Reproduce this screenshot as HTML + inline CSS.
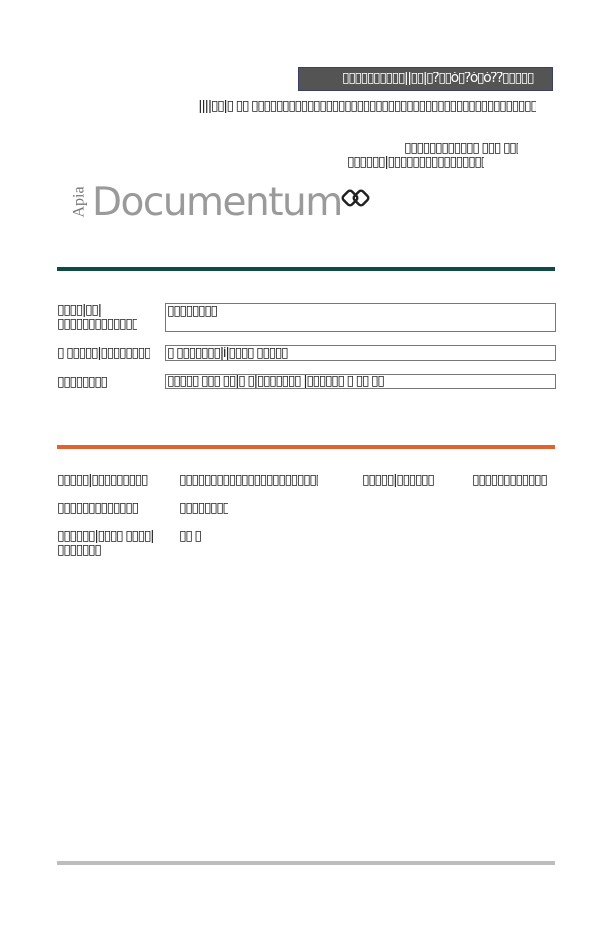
<!DOCTYPE html>
<html><head><meta charset="utf-8"><style>
body{margin:0;width:612px;height:936px;background:#fff;position:relative;overflow:hidden;font-family:"DejaVu Sans","Liberation Sans",sans-serif}
.t{position:absolute;white-space:nowrap;overflow:hidden;font-size:14px;line-height:13px;color:#222;letter-spacing:-1.5px}
.b{position:absolute;border:1px solid #777;box-sizing:border-box}
.l{position:absolute;left:57px;width:498px;height:4px}
</style></head><body>
<div style="position:absolute;left:298px;top:67px;width:255px;height:24px;background:#545454;border:1px solid #3a3f6a;box-sizing:border-box"></div>
<div class="t" style="left:342px;top:72px;width:206px;color:#fff">▯▯▯▯▯▯▯▯▯▯||▯▯|▯?▯▯ó▯?ó▯ó??▯▯▯▯▯</div>
<div class="t" style="left:198px;top:100px;width:338px">||||▯▯|▯ ▯▯ ▯▯▯▯▯▯▯▯▯▯▯▯▯▯▯▯▯▯▯▯▯▯▯▯▯▯▯▯▯▯▯▯▯▯▯▯▯▯▯▯▯▯▯▯▯▯▯▯▯▯▯▯▯▯▯▯▯▯</div>
<div class="t" style="left:404px;top:142px;width:114px">▯▯▯▯▯▯▯▯▯▯▯▯ ▯▯▯ ▯▯▯▯</div>
<div class="t" style="left:347px;top:156px;width:137px">▯▯▯▯▯▯|▯▯▯▯▯▯▯▯▯▯▯▯▯▯▯▯▯</div>
<div style="position:absolute;left:64px;top:194px;transform:rotate(-90deg);font-family:'Liberation Serif',serif;font-size:16px;color:#777;line-height:16px">Apia</div>
<div style="position:absolute;left:92px;top:179px;font-family:'DejaVu Sans',sans-serif;font-size:39px;color:#9a9a9a;letter-spacing:-1.5px;line-height:48px">Documentum</div>
<svg style="position:absolute;left:340px;top:187px" width="32" height="24"><g fill="none" stroke="#222" stroke-width="2.5"><rect x="4" y="5" width="12" height="12" transform="rotate(45 10 11)" rx="3"/><rect x="15" y="5" width="12" height="12" transform="rotate(45 21 11)" rx="3"/></g></svg>
<div class="l" style="top:267px;background:#0e4b45"></div>
<div class="t" style="left:57px;top:304px;width:90px">▯▯▯▯|▯▯|</div>
<div class="t" style="left:57px;top:318px;width:80px">▯▯▯▯▯▯▯▯▯▯▯▯▯▯</div>
<div class="b" style="left:165px;top:303px;width:391px;height:29px"></div>
<div class="t" style="left:167px;top:305px;width:50px">▯▯▯▯▯▯▯▯</div>
<div class="t" style="left:57px;top:347px;width:93px">▯ ▯▯▯▯▯|▯▯▯▯▯▯▯▯</div>
<div class="b" style="left:165px;top:345px;width:391px;height:16px"></div>
<div class="t" style="left:167px;top:347px;width:140px">▯ ▯▯▯▯▯▯▯|í|▯▯▯▯ ▯▯▯▯▯</div>
<div class="t" style="left:57px;top:376px;width:50px">▯▯▯▯▯▯▯▯</div>
<div class="b" style="left:165px;top:374px;width:391px;height:15px"></div>
<div class="t" style="left:167px;top:375px;width:233px">▯▯▯▯▯ ▯▯▯ ▯▯|▯ ▯|▯▯▯▯▯▯▯ |▯▯▯▯▯▯ ▯ ▯▯ ▯▯</div>
<div class="l" style="top:445px;background:#e2622f"></div>
<div class="t" style="left:57px;top:474px;width:94px">▯▯▯▯▯|▯▯▯▯▯▯▯▯▯</div>
<div class="t" style="left:179px;top:474px;width:139px">▯▯▯▯▯▯▯▯▯▯▯▯▯▯▯▯▯▯▯▯▯▯▯</div>
<div class="t" style="left:362px;top:474px;width:77px">▯▯▯▯▯|▯▯▯▯▯▯</div>
<div class="t" style="left:472px;top:474px;width:76px">▯▯▯▯▯▯▯▯▯▯▯▯</div>
<div class="t" style="left:57px;top:502px;width:83px">▯▯▯▯▯▯▯▯▯▯▯▯▯</div>
<div class="t" style="left:179px;top:502px;width:49px">▯▯▯▯▯▯▯▯</div>
<div class="t" style="left:57px;top:530px;width:103px">▯▯▯▯▯▯|▯▯▯▯ ▯▯▯▯|</div>
<div class="t" style="left:57px;top:544px;width:45px">▯▯▯▯▯▯▯</div>
<div class="t" style="left:179px;top:530px;width:22px">▯▯ ▯▯</div>
<div class="l" style="top:861px;background:#bdbdbd"></div>
</body></html>
